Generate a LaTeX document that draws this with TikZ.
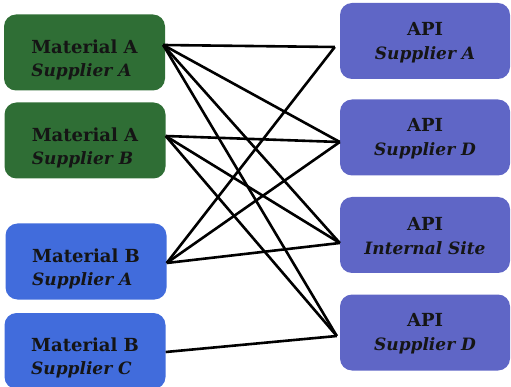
\documentclass[tikz,border=0pt]{standalone}
\usepackage{fontspec}
\setmainfont{DejaVu Serif}
\definecolor{matgreen}{HTML}{2F6E35}
\definecolor{matblue}{HTML}{416CDC}
\definecolor{apiblue}{HTML}{5F66C6}
\definecolor{textcol}{HTML}{151515}
\newcommand{\subline}[1]{{\fontsize{17}{22}\selectfont\itshape #1}}

\tikzset{
  box/.style={rounded corners=12pt, inner sep=0pt, fill=#1},
  boxtext/.style={inner sep=0pt, text=textcol, font=\bfseries\fontsize{18}{23}\selectfont},
  matbox/.style={box=#1, minimum width=161pt, minimum height=76pt},
  mattext/.style={boxtext, align=left, yshift=-7pt},
  apibox/.style={box=apiblue, minimum width=170pt, minimum height=76pt},
  apitext/.style={boxtext, align=center, font=\bfseries\fontsize{18}{24}\selectfont, yshift=-1.5pt},
  link/.style={black, line width=2.6pt},
}

\begin{document}
\begin{tikzpicture}[x=1pt, y=-1pt]
\useasboundingbox (0,0) rectangle (511,387);

% === Materials (left) ===
\node[matbox=matgreen, label={[mattext]center:{Material A\\\subline{Supplier A}}}] (matAsupA) at (84.5,52.5) {};
\node[matbox=matgreen, label={[mattext]center:{Material A\\\subline{Supplier B}}}] (matAsupB) at (85,140.5) {};
\node[matbox=matblue,  label={[mattext]center:{Material B\\\subline{Supplier A}}}] (matBsupA) at (86,261.5) {};
\node[matbox=matblue,  label={[mattext]center:{Material B\\\subline{Supplier C}}}] (matBsupC) at (85,351) {};

% === API sources (right) ===
\node[apibox, label={[apitext]center:{API\\\subline{Supplier A}}}]    (apiSupA)  at (425,41) {};
\node[apibox, label={[apitext]center:{API\\\subline{Supplier D}}}]    (apiSupD)  at (425,137.5) {};
\node[apibox, label={[apitext]center:{API\\\subline{Internal Site}}}] (apiInt)   at (425,235) {};
\node[apibox, label={[apitext]center:{API\\\subline{Supplier D}}}]    (apiSupD2) at (425,332.5) {};

% link ends
\coordinate (mAA) at ([xshift=-2pt, yshift=7.5pt]matAsupA.east);
\coordinate (mAB) at ([yshift=4.5pt]matAsupB.east);
\coordinate (mBA) at ([yshift=-1.5pt]matBsupA.east);
\coordinate (mBC) at ([yshift=-1pt]matBsupC.east);
\coordinate (aSA) at ([xshift=-5pt, yshift=-6pt]apiSupA.west);
\coordinate (aSD) at ([yshift=-4.5pt]apiSupD.west);
\coordinate (aIS) at ([yshift=-8pt]apiInt.west);
\coordinate (aSD2) at ([xshift=-3pt, yshift=-3.5pt]apiSupD2.west);

% === Links ===
\foreach \from/\to in {mAA/aSA, mAA/aSD, mAA/aIS, mAA/aSD2,
                       mAB/aSD, mAB/aIS, mAB/aSD2,
                       mBA/aSA, mBA/aSD, mBA/aIS,
                       mBC/aSD2}
  \draw[link] (\from) -- (\to);

\end{tikzpicture}
\end{document}
